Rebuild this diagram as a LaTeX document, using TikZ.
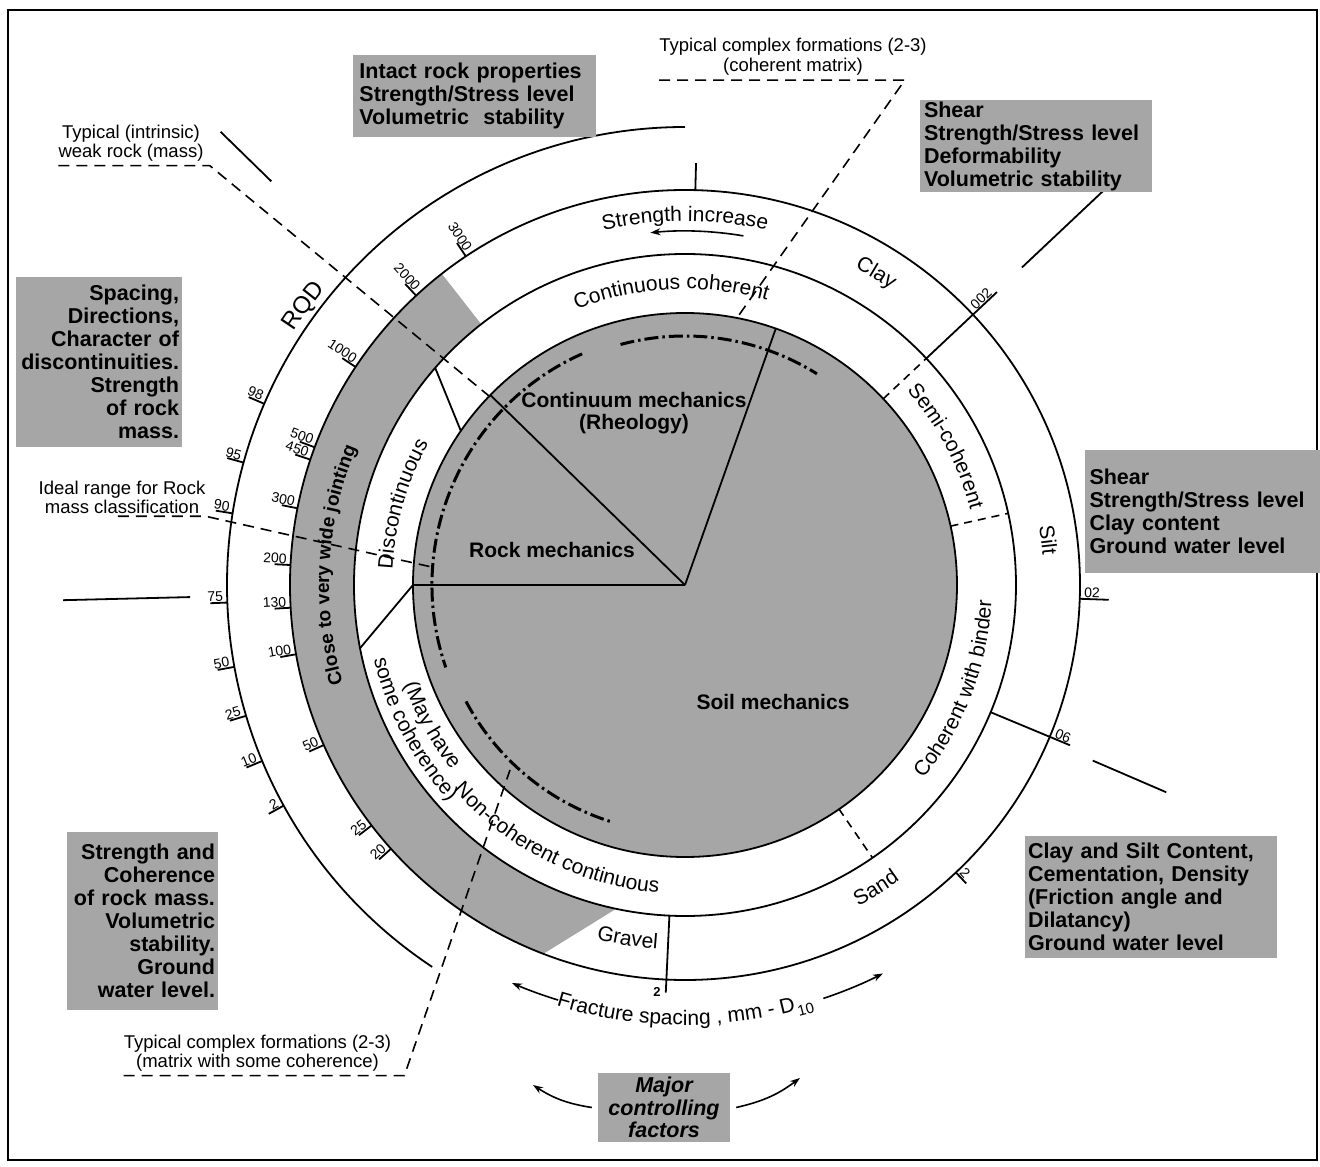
\documentclass[tikz,border=0pt]{standalone}
\usepackage{fontspec}
\setmainfont{Liberation Sans}
\usetikzlibrary{arrows.meta,decorations.text}
\newcommand{\fsz}[2]{\fontsize{#1}{#2}\selectfont}
% curved label: radius, start angle, end angle, text
\newcommand{\arclabel}[4]{%
  \path[decorate,decoration={text along path,text align=center,text={#4}}]
    (#2:#1) arc[start angle=#2,end angle=#3,radius=#1pt];}
\tikzset{
  rim/.style={line width=1.8pt},
  greyfill/.style={fill=black!35},
  ctrl/.style={fill=black!35,inner sep=0pt,font=\bfseries\fsz{21.5}{23}},
  lbl/.style={font=\fsz{18.5}{19.5},align=center,inner sep=0pt},
  mech/.style={font=\bfseries\fsz{21}{22},align=center,inner sep=0pt},
  scl/.style={font=\fsz{14}{14},inner sep=1pt},
  lead/.style={line width=1.6pt,dash pattern=on 11pt off 7pt},
  split/.style={line width=1.6pt,dash pattern=on 8pt off 6pt},
  dashdot/.style={line width=3pt,dash pattern=on 14pt off 4pt on 2.5pt off 4pt},
  arr/.style={-{Stealth[length=10pt,width=7pt]},line width=1.6pt}
}
\begin{document}
\begin{tikzpicture}[x=1pt,y=1pt]
\useasboundingbox (-685,-582) rectangle (635,585);
\draw[line width=2.5pt] (-677,-575) rectangle (632,575);
\coordinate (o) at (0,0);

% grey disk and jointing band
\fill[greyfill] (o) circle[radius=272pt];
\fill[greyfill] (128:395) arc[start angle=128,end angle=249,radius=395pt]
  -- (258:331) arc[start angle=258,end angle=128,radius=331pt] -- cycle;

% rings
\draw[rim] (o) circle[radius=272pt];
\draw[rim] (o) circle[radius=331pt];
\draw[rim] (o) circle[radius=395pt];
\draw[rim] (90:458) arc[start angle=90,end angle=236.5,radius=458pt];

% sectors and class limits
\draw[rim] (o) -- (180:272) -- (191:331);
\draw[rim] (o) -- (135.7:272);
\draw[rim] (o) -- (70.5:272);
\draw[rim] (139:331) -- (145.5:272);
\draw[rim] (267.3:331) -- (267.3:408);
\draw[rim] (43.2:331) -- (43.2:428);
\draw[rim] (-22.6:331) -- (-22.6:417);
\draw[rim] (88.5:395) -- (88.5:422);
\draw[rim] (-2:395) -- (-2:424);
\draw[rim] (-46.7:395) -- (-46.7:410);
\draw[split] (43.2:272) -- (43.2:331);
\draw[split] (12.5:272) -- (12.5:331);
\draw[split] (-55.5:272) -- (-55.5:331);

% pointers to the factor boxes
\draw[rim] (135.7:578) -- (135.7:649);
\draw[rim] (181.4:495) -- (181.4:622);
\draw[rim] (43.3:463) -- (43.3:578);
\draw[rim] (-23.3:444) -- (-23.3:524);

% ranges of complex formations
\draw[dashdot] (105:249) arc[start angle=105,end angle=58,radius=249pt];
\draw[dashdot] (114:253) arc[start angle=114,end angle=199,radius=253pt];
\draw[dashdot] (208:248) arc[start angle=208,end angle=253,radius=248pt];

% RQD scale
\foreach \a/\t in {156.7/98,164.5/95,171/90,182.2/75,190.3/50,196.6/25,202.6/10,208.8/2}{
  \draw[rim] (\a:458) -- (\a:475);
  \node[scl,anchor=south east,rotate=\a-180] at (\a:461) {\t};
}
% fracture spacing scale
\foreach \a/\t in {123.7/3000,132.9/2000,146.5/1000,159.6/500,161.5/450,168.8/300,
                   177.1/200,183.3/130,190.1/100,203.9/50,217.5/25,221.9/20}{
  \draw[rim] (\a:395) -- (\a:411);
  \node[scl,anchor=south east,rotate=\a-180] at (\a:398) {\t};
}
\node[scl,anchor=south west,rotate=43.2] at (43.2:399) {002};
\node[scl,anchor=south west,rotate=-2] at (-2:398) {02};
\node[scl,anchor=south west,rotate=-22.6] at (-22.6:398) {06};
\node[scl,anchor=south west,rotate=-46.7] at (-46.7:397) {2};
\node[scl,font=\bfseries\fsz{13}{13}] at (-28,-407) {2};

% ring labels
\arclabel{296}{137.7}{47.7}{|\fsz{21}{21}|Continuous coherent}
\arclabel{295}{63}{-7}{|\fsz{21}{21}|Semi-coherent}
\arclabel{293}{199}{129}{|\fsz{21}{21}|Discontinuous}
\arclabel{298}{179}{239}{|\fsz{21}{21}|(May have}
\arclabel{320}{178}{238}{|\fsz{21}{21}|some coherence)}
\arclabel{309}{213.3}{273.3}{|\fsz{21}{21}|Non-coherent continuous}
\arclabel{307}{-51}{9}{|\fsz{21}{21}|Coherent with binder}
\arclabel{364}{125}{55}{|\fsz{21}{21}|Strength increase}
\arclabel{360}{88.5}{28.5}{|\fsz{21}{21}|Clay}
\arclabel{359}{37.1}{-22.9}{|\fsz{21}{21}|Silt}
\arclabel{365}{-87.8}{-27.8}{|\fsz{21}{21}|Sand}
\arclabel{365}{230.8}{290.8}{|\fsz{21}{21}|Gravel}
\arclabel{356}{211.7}{141.7}{|\bfseries\fsz{19}{19}|Close to very wide jointing}
\arclabel{466}{173.8}{113.8}{|\fsz{24}{24}|RQD}
\draw[arr] (80.5:354) arc[start angle=80.5,end angle=95.6,radius=354pt];

% fracture spacing axis
\path[decorate,decoration={text along path,text={|\fsz{21}{21}|Fracture spacing , mm - D}}]
  (253:440) arc[start angle=253,end angle=300,radius=440pt];
\node[font=\fsz{15}{15},anchor=base west,rotate=14.8,inner sep=0pt] (sub) at (284.8:446) {10};
\draw[arr] (253:434) arc[start angle=253,end angle=246.5,radius=434pt];
\draw[arr] (288.5:436) arc[start angle=288.5,end angle=297,radius=436pt];

% mechanics
\node[mech] (cont) at (-51,172) {Continuum mechanics\\(Rheology)};
\node[mech] (rock) at (-133,35) {Rock mechanics};
\node[mech] (soil) at (88,-117) {Soil mechanics};

% controlling factors
\node[ctrl,minimum width=243pt,minimum height=82pt,text width=230pt,align=left] (intact) at (-210.5,489)
  {Intact rock properties\\Strength/Stress level\\Volumetric\ \ stability};
\node[ctrl,minimum width=232pt,minimum height=92pt,text width=224pt,align=left] (shearA) at (351,439)
  {Shear\\Strength/Stress level\\Deformability\\Volumetric stability};
\node[ctrl,minimum width=166pt,minimum height=170pt,text width=160pt,align=right] (spacing) at (-586,223)
  {Spacing,\\Directions,\\Character of\\discontinuities.\\Strength\\of rock\\mass.};
\node[ctrl,minimum width=235pt,minimum height=123pt,text width=226pt,align=left] (shearB) at (517.5,73.5)
  {Shear\\Strength/Stress level\\Clay content\\Ground water level};
\node[ctrl,minimum width=151pt,minimum height=178pt,text width=145pt,align=right] (coher) at (-542.5,-336)
  {Strength and\\Coherence\\of rock mass.\\Volumetric\\stability.\\Ground\\water level.};
\node[ctrl,minimum width=252pt,minimum height=122pt,text width=246pt,align=left] (claysilt) at (466,-312)
  {Clay and Silt Content,\\Cementation, Density\\(Friction angle and\\Dilatancy)\\Ground water level};
\node[ctrl,font=\bfseries\itshape\fsz{21.5}{22.5},minimum width=132pt,minimum height=69pt,align=center] (major) at (-21,-522.5)
  {Major\\controlling\\factors};
\coordinate (majL) at (-152,-500);
\coordinate (majR) at (115,-493);
\draw[arr] ([xshift=-6pt]major.west) to[bend left=12] (majL);
\draw[arr] ([xshift=6pt]major.east) to[bend right=12] (majR);

% typical formations
\node[lbl] (topcf) at (108,528.5) {Typical complex formations (2-3)\\(coherent matrix)};
\node[lbl] (botcf) at (-427.5,-468) {Typical complex formations (2-3)\\(matrix with some coherence)};
\node[lbl] (weak) at (-554,442) {Typical (intrinsic)\\weak rock (mass)};
\node[lbl] (ideal) at (-563,87.5) {Ideal range for Rock\\mass classification};
\coordinate (topEnd) at (79:272);
\coordinate (botEnd) at (-175,-185);
\coordinate (weakEnd) at (136:270);
\coordinate (idealEnd) at (176:252);
\draw[lead] ([yshift=-5pt]topcf.south west) -- ([xshift=-22pt,yshift=-5pt]topcf.south east) -- (topEnd);
\draw[lead] ([yshift=-4pt]botcf.south west) -- ([xshift=13pt,yshift=-4pt]botcf.south east) -- (botEnd);
\draw[lead] ([yshift=-4pt]weak.south west) -- ([xshift=6pt,yshift=-4pt]weak.south east) -- (weakEnd);
\draw[lead] ([xshift=-4pt,yshift=-2pt]ideal.south) -- ([yshift=-2pt]ideal.south east) -- (idealEnd);
\end{tikzpicture}
\end{document}
